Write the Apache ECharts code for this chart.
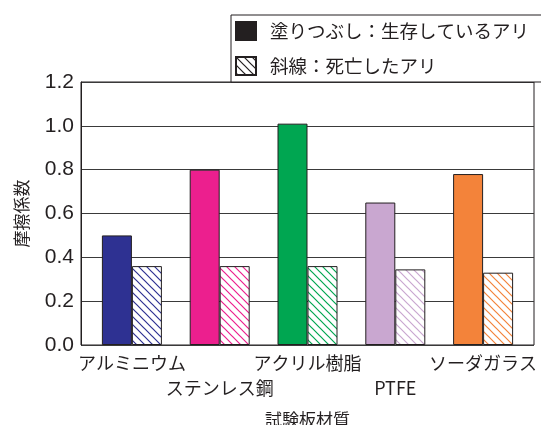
<!DOCTYPE html>
<html>
<head>
<meta charset="utf-8">
<script src="https://cdn.jsdelivr.net/npm/echarts@6/dist/echarts.min.js"></script>
<style>
  html, body { margin: 0; padding: 0; background: #fff; }
  #chart { width: 541px; height: 425px; }
</style>
</head>
<body>
<div id="chart"></div>
<script>
// Friction coefficient by test plate material
var categories = ['アルミニウム', 'ステンレス鋼', 'アクリル樹脂', 'PTFE', 'ソーダガラス'];
var aliveValues = [0.50, 0.80, 1.01, 0.65, 0.78];   // solid bars: living ants
var deadValues  = [0.36, 0.36, 0.36, 0.345, 0.33];  // hatched bars: dead ants
var materialColors = ['#2e3192', '#ec1f8e', '#00a651', '#c9a7d0', '#f3833a'];
var aliveName = '塗りつぶし：生存しているアリ';
var deadName = '斜線：死亡したアリ';

var ink = '#231f20';
var cjk = '"Noto Sans CJK JP", "Noto Sans", sans-serif';
var latin = '"Liberation Sans", Arial, sans-serif';

// Diagonal "\" hatch tile in the given colour
function hatch(color) {
  var s = 8;
  var c = document.createElement('canvas');
  c.width = s; c.height = s;
  var g = c.getContext('2d');
  g.fillStyle = '#fff';
  g.fillRect(0, 0, s, s);
  g.strokeStyle = color;
  g.lineWidth = 1.2;
  g.beginPath();
  g.moveTo(-1, -1); g.lineTo(s + 1, s + 1);
  g.moveTo(-1, s - 1); g.lineTo(1, s + 1);
  g.moveTo(s - 1, -1); g.lineTo(s + 1, 1);
  g.stroke();
  return { image: c, repeat: 'repeat' };
}

var chart = echarts.init(document.getElementById('chart'), null, { renderer: 'canvas' });

var option = {
  animation: false,
  backgroundColor: '#fff',
  legend: {
    orient: 'vertical',
    left: 231,
    top: 15,
    padding: [6, 13, 6, 4],
    itemGap: 15,
    itemWidth: 20,
    itemHeight: 18,
    backgroundColor: '#fff',
    borderColor: ink,
    borderWidth: 1,
    icon: 'rect',
    textStyle: { fontFamily: cjk, fontSize: 18.5, color: ink, padding: [0, 0, 0, 9] },
    data: [aliveName, deadName]
  },
  grid: [
    // frame with value grid lines
    { left: 81, right: 7, top: 82, bottom: 80, show: true, borderColor: ink, borderWidth: 1,
      containLabel: false, outerBoundsMode: 'none' },
    // bar placement
    { left: 88, right: 14, top: 82, bottom: 80, containLabel: false, outerBoundsMode: 'none' }
  ],
  xAxis: [
    {
      gridIndex: 0, type: 'value', min: 0, max: 1, show: false
    },
    {
      gridIndex: 1, type: 'category', data: categories,
      axisLine: { show: false }, axisTick: { show: false },
      axisLabel: {
        interval: 0, margin: 6, color: ink, fontFamily: cjk, fontSize: 18, lineHeight: 25,
        formatter: function (v, i) { return i % 2 === 1 ? '\n' + v : v; }
      },
      name: '試験板材質', nameLocation: 'middle', nameGap: 66,
      nameTextStyle: { fontFamily: cjk, fontSize: 17, color: ink }
    }
  ],
  yAxis: [
    {
      gridIndex: 0, type: 'value', min: 0, max: 1.2, interval: 0.2,
      axisLine: { show: true, lineStyle: { color: ink } },
      axisTick: { show: false },
      splitLine: { show: true, lineStyle: { color: '#3a3a3a', width: 1 } },
      axisLabel: {
        margin: 7, color: ink, fontFamily: latin, fontSize: 21,
        formatter: function (v) { return v.toFixed(1); }
      },
      name: '摩擦係数', nameLocation: 'middle', nameGap: 51, nameRotate: 90,
      nameTextStyle: { fontFamily: cjk, fontSize: 17, color: ink }
    },
    {
      gridIndex: 1, type: 'value', min: 0, max: 1.2, show: false
    }
  ],
  series: [
    {
      name: aliveName, type: 'bar', xAxisIndex: 1, yAxisIndex: 1,
      barWidth: 30, barGap: '0%',
      itemStyle: { color: ink, borderColor: ink, borderWidth: 1 },
      data: aliveValues.map(function (v, i) {
        return { value: v, itemStyle: { color: materialColors[i] } };
      })
    },
    {
      name: deadName, type: 'bar', xAxisIndex: 1, yAxisIndex: 1,
      barWidth: 30, barGap: '0%',
      itemStyle: { color: hatch(ink), borderColor: ink, borderWidth: 1 },
      data: deadValues.map(function (v, i) {
        return { value: v, itemStyle: { color: hatch(materialColors[i]) } };
      })
    }
  ]
};

chart.setOption(option);
</script>
</body>
</html>
